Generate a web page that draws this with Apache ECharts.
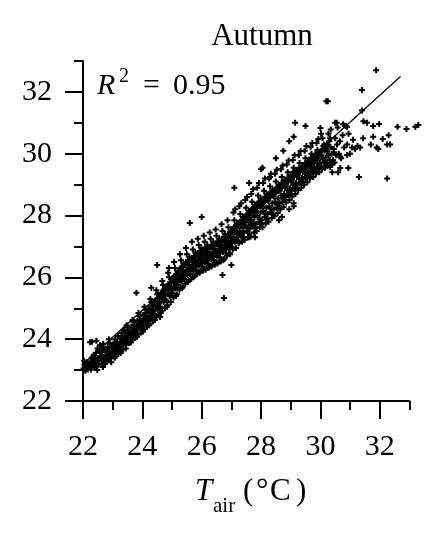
<!DOCTYPE html>
<html>
<head>
<meta charset="utf-8">
<script src="https://cdn.jsdelivr.net/npm/echarts@6/dist/echarts.min.js"></script>
<style>
html,body{margin:0;padding:0;background:#fff;}
#chart{width:441px;height:541px;}
</style>
</head>
<body>
<div id="chart"></div>
<script>
// Tick values
var majorTicks = [22, 24, 26, 28, 30, 32];
var axisMin = 22, axisMax = 33;

// Observed points, lower part of the band (T_air < 26)
var lowerBand = [
[22.02,23.05],[22.05,23.18],[22.08,22.98],[22.1,23.12],[22.13,23.25],[22.16,23.02],[22.19,23.15],[22.04,23.3],
[22.22,23.1],[22.25,23.28],[22.27,23.02],[22.3,23.4],[22.33,23.18],[22.36,23.5],[22.38,23.08],[22.24,23.9],[22.35,23.33],
[22.42,23.25],[22.44,23.55],[22.46,23.12],[22.49,23.7],[22.51,23.38],[22.53,23.2],[22.55,23.62],[22.58,23.45],[22.45,23.95],[22.57,23.8],[22.48,23.0],
[22.62,23.3],[22.64,23.58],[22.66,23.18],[22.69,23.72],[22.71,23.42],[22.73,23.25],[22.75,23.65],[22.78,23.5],[22.68,23.85],[22.74,23.2],[22.77,23.36],[22.67,23.1],
[22.81,23.45],[22.83,23.75],[22.85,23.32],[22.88,23.62],[22.9,23.88],[22.92,23.5],[22.94,23.38],[22.96,23.7],[22.98,23.55],[22.87,24.0],[22.95,23.25],
[23.01,23.6],[23.03,23.85],[23.05,23.45],[23.08,24.0],[23.1,23.72],[23.12,23.55],[23.14,23.9],[23.16,23.68],[23.18,24.1],[23.07,23.4],[23.13,23.8],[23.19,23.52],
[23.21,23.75],[23.23,24.05],[23.25,23.62],[23.28,23.92],[23.3,24.2],[23.32,23.82],[23.34,24.0],[23.36,23.68],[23.38,24.3],[23.27,23.55],[23.33,24.12],[23.39,23.9],
[23.41,23.95],[23.43,24.22],[23.45,23.82],[23.48,24.1],[23.5,24.38],[23.52,24.0],[23.54,24.28],[23.56,23.88],[23.58,24.15],[23.47,24.45],[23.55,24.05],[23.44,23.7],
[23.61,24.1],[23.63,24.4],[23.65,23.98],[23.68,24.3],[23.7,24.55],[23.72,24.18],[23.74,24.45],[23.76,24.05],[23.78,24.35],[23.67,24.62],[23.75,24.25],[23.62,23.9],
[23.81,24.3],[23.83,24.6],[23.85,24.15],[23.88,24.48],[23.9,24.75],[23.92,24.38],[23.94,24.62],[23.96,24.22],[23.98,24.52],[23.87,24.85],[23.95,24.42],[23.82,24.08],
[24.01,24.45],[24.03,24.78],[24.05,24.32],[24.08,24.65],[24.1,24.95],[24.12,24.55],[24.14,24.85],[24.16,24.4],[24.18,24.7],[24.07,25.05],[24.15,24.6],[24.02,24.25],[24.19,24.9],
[24.21,24.62],[24.23,25.0],[24.25,24.5],[24.28,24.85],[24.3,25.2],[24.32,24.72],[24.34,25.08],[24.36,24.58],[24.38,24.92],[24.27,25.3],[24.35,24.8],[24.22,24.45],[24.39,25.15],
[24.41,24.82],[24.43,25.25],[24.45,24.7],[24.48,25.1],[24.5,25.45],[24.52,24.95],[24.54,25.32],[24.56,24.78],[24.58,25.18],[24.47,25.58],[24.55,25.02],[24.42,24.62],[24.59,25.4],
[24.61,25.05],[24.63,25.5],[24.65,24.92],[24.68,25.35],[24.7,25.75],[24.72,25.2],[24.74,25.62],[24.76,25.0],[24.78,25.45],[24.67,25.88],[24.75,25.28],[24.62,24.85],[24.79,25.7],[24.71,25.55],
[24.81,25.25],[24.83,25.72],[24.85,25.1],[24.88,25.58],[24.9,26.0],[24.92,25.4],[24.94,25.85],[24.96,25.2],[24.98,25.65],[24.87,26.15],[24.95,25.5],[24.82,25.05],[24.99,25.95],[24.91,25.78],
[25.01,25.5],[25.03,25.95],[25.05,25.35],[25.08,25.82],[25.1,26.3],[25.12,25.65],[25.14,26.1],[25.16,25.45],[25.18,25.9],[25.07,26.5],[25.15,25.75],[25.02,25.6],[25.19,26.2],[25.11,26.02],[25.13,25.4],
[25.21,25.75],[25.23,26.2],[25.25,25.6],[25.28,26.05],[25.3,26.55],[25.32,25.88],[25.34,26.35],[25.36,25.7],[25.38,26.12],[25.27,26.75],[25.35,25.98],[25.22,25.85],[25.39,26.45],[25.31,26.25],[25.33,25.65],
[25.41,25.95],[25.43,26.4],[25.45,25.8],[25.48,26.25],[25.5,26.75],[25.52,26.08],[25.54,26.55],[25.56,25.9],[25.58,26.32],[25.47,26.95],[25.55,26.18],[25.42,26.05],[25.59,26.65],[25.51,26.45],[25.53,25.85],
[25.61,26.1],[25.63,26.55],[25.65,25.95],[25.68,26.4],[25.7,26.9],[25.72,26.22],[25.74,26.7],[25.76,26.05],[25.78,26.48],[25.67,27.15],[25.75,26.32],[25.62,26.2],[25.79,26.8],[25.71,26.6],[25.73,26.0],
[25.81,26.25],[25.83,26.7],[25.85,26.12],[25.88,26.55],[25.9,27.05],[25.92,26.38],[25.94,26.85],[25.96,26.2],[25.98,26.62],[25.87,27.25],[25.95,26.48],[25.82,26.35],[25.99,26.95],[25.91,26.75],[25.93,26.15]
];

// Observed points, upper part of the band (T_air >= 26)
var upperBand = [
[26.01,26.35],[26.03,26.8],[26.05,26.22],[26.08,26.65],[26.1,27.15],[26.12,26.5],[26.14,26.95],[26.16,26.3],[26.18,26.72],[26.07,27.35],[26.15,26.58],[26.02,26.45],[26.19,27.05],[26.11,26.88],[26.13,26.25],
[26.21,26.45],[26.23,26.9],[26.25,26.32],[26.28,26.75],[26.3,27.25],[26.32,26.6],[26.34,27.05],[26.36,26.4],[26.38,26.82],[26.27,27.45],[26.35,26.68],[26.22,26.55],[26.39,27.15],[26.31,26.98],[26.33,26.35],
[26.41,26.55],[26.43,27.0],[26.45,26.42],[26.48,26.85],[26.5,27.35],[26.52,26.7],[26.54,27.15],[26.56,26.5],[26.58,26.92],[26.47,27.55],[26.55,26.78],[26.42,26.65],[26.59,27.25],[26.51,27.08],[26.53,26.45],
[26.61,26.65],[26.63,27.12],[26.65,26.52],[26.68,26.98],[26.7,27.5],[26.72,26.82],[26.74,27.3],[26.76,26.6],[26.78,27.05],[26.67,27.72],[26.75,26.9],[26.62,26.78],[26.79,27.4],[26.71,27.2],[26.73,26.55],
[26.81,26.8],[26.83,27.25],[26.85,26.7],[26.88,27.1],[26.9,27.62],[26.92,26.95],[26.94,27.42],[26.96,26.75],[26.98,27.18],[26.87,27.85],[26.95,27.02],[26.82,26.9],[26.99,27.52],[26.91,27.32],[26.93,26.78],
[27.01,27.0],[27.03,27.45],[27.05,26.9],[27.08,27.3],[27.1,27.85],[27.12,27.15],[27.14,27.65],[27.16,26.95],[27.18,27.4],[27.07,28.1],[27.15,27.22],[27.02,27.1],[27.19,27.75],[27.11,27.55],[27.13,28.2],
[27.21,27.2],[27.23,27.65],[27.25,27.1],[27.28,27.5],[27.3,28.05],[27.32,27.35],[27.34,27.85],[27.36,27.15],[27.38,27.6],[27.27,28.3],[27.35,27.42],[27.22,27.3],[27.39,27.95],[27.31,27.75],[27.33,28.4],
[27.41,27.3],[27.43,27.82],[27.45,27.22],[27.48,27.68],[27.5,28.25],[27.52,27.5],[27.54,28.05],[27.56,27.3],[27.58,27.78],[27.47,28.5],[27.55,27.6],[27.42,27.45],[27.59,28.15],[27.51,27.95],[27.53,28.6],
[27.61,27.42],[27.63,28.0],[27.65,27.32],[27.68,27.85],[27.7,28.45],[27.72,27.65],[27.74,28.25],[27.76,27.45],[27.78,27.95],[27.67,28.7],[27.75,27.75],[27.62,27.58],[27.79,28.35],[27.71,28.12],[27.73,28.85],
[27.81,27.6],[27.83,28.15],[27.85,27.5],[27.88,28.0],[27.9,28.65],[27.92,27.8],[27.94,28.45],[27.96,27.62],[27.98,28.1],[27.87,28.9],[27.95,27.9],[27.82,27.72],[27.99,28.55],[27.91,28.3],[27.93,29.05],
[28.01,27.72],[28.03,28.3],[28.05,27.62],[28.08,28.15],[28.1,28.8],[28.12,27.95],[28.14,28.6],[28.16,27.75],[28.18,28.25],[28.07,29.05],[28.15,28.05],[28.02,27.85],[28.19,28.7],[28.11,28.45],[28.13,29.2],
[28.21,27.9],[28.23,28.48],[28.25,27.8],[28.28,28.3],[28.3,28.95],[28.32,28.1],[28.34,28.75],[28.36,27.92],[28.38,28.4],[28.27,29.2],[28.35,28.2],[28.22,28.05],[28.39,28.85],[28.31,28.6],[28.33,29.35],
[28.41,28.05],[28.43,28.62],[28.45,27.98],[28.48,28.45],[28.5,29.1],[28.52,28.25],[28.54,28.9],[28.56,28.08],[28.58,28.55],[28.47,29.35],[28.55,28.35],[28.42,28.2],[28.59,29.0],[28.51,28.75],[28.53,29.48],
[28.61,28.3],[28.63,28.8],[28.65,28.2],[28.68,28.65],[28.7,29.25],[28.72,28.45],[28.74,29.05],[28.76,28.28],[28.78,28.7],[28.67,29.5],[28.75,28.55],[28.62,28.4],[28.79,29.15],[28.71,28.92],[28.73,29.62],
[28.81,28.5],[28.83,28.95],[28.85,28.42],[28.88,28.82],[28.9,29.4],[28.92,28.65],[28.94,29.2],[28.96,28.5],[28.98,28.88],[28.87,29.65],[28.95,28.72],[28.82,28.6],[28.99,29.3],[28.91,29.08],[28.93,29.78],
[29.01,28.7],[29.03,29.12],[29.05,28.62],[29.08,29.0],[29.1,29.55],[29.12,28.85],[29.14,29.35],[29.16,28.7],[29.18,29.05],[29.07,29.8],[29.15,28.92],[29.02,28.8],[29.19,29.45],[29.11,29.25],[29.13,29.95],
[29.21,28.9],[29.23,29.3],[29.25,28.82],[29.28,29.18],[29.3,29.7],[29.32,29.05],[29.34,29.5],[29.36,28.9],[29.38,29.22],[29.27,29.95],[29.35,29.12],[29.22,29.0],[29.39,29.6],[29.31,29.4],[29.33,30.08],
[29.41,29.1],[29.43,29.48],[29.45,29.0],[29.48,29.35],[29.5,29.85],[29.52,29.22],[29.54,29.65],[29.56,29.08],[29.58,29.4],[29.47,30.1],[29.55,29.3],[29.42,29.18],[29.59,29.75],[29.51,29.55],[29.53,30.25],
[29.61,29.3],[29.63,29.65],[29.65,29.2],[29.68,29.52],[29.7,30.0],[29.72,29.4],[29.74,29.8],[29.76,29.25],[29.78,29.58],[29.67,30.22],[29.75,29.48],[29.62,29.38],[29.79,29.9],[29.71,29.7],[29.73,30.35],
[29.81,29.45],[29.83,29.8],[29.85,29.35],[29.88,29.68],[29.9,30.12],[29.92,29.55],[29.94,29.95],[29.96,29.4],[29.98,29.72],[29.87,30.35],[29.95,29.62],[29.82,29.5],[29.99,30.05],[29.91,29.85],[29.93,30.48],
[30.01,29.6],[30.03,29.95],[30.05,29.5],[30.08,29.82],[30.1,30.25],[30.12,29.7],[30.14,30.1],[30.16,29.55],[30.18,29.88],[30.07,30.5],[30.15,29.78],[30.02,30.65],[30.19,30.2],
[30.21,29.72],[30.23,30.08],[30.25,29.62],[30.28,29.95],[30.3,30.4],[30.32,29.8],[30.34,30.22],[30.36,29.68],[30.38,30.0],[30.27,30.65],[30.35,30.78],[30.22,30.3],
[30.42,29.8],[30.45,30.15],[30.48,29.72],[30.5,30.5],[30.53,29.95],[30.56,30.3],[30.58,30.85],[30.46,30.05],
[30.62,30.0],[30.66,30.4],[30.7,29.85],[30.75,30.6],[30.8,30.2],[30.85,30.9],[30.9,30.3],[30.95,30.65]
];

// Extra points filling the dense core of the band
var coreExtra = [
[22.09,23.09],[22.15,23.22],[22.29,23.24],[22.41,23.4],[22.47,23.3],[22.59,23.6],[22.65,23.42],[22.79,23.62],[22.86,23.5],[22.97,23.82],
[23.06,23.7],[23.15,23.62],[23.26,23.85],[23.35,23.95],[23.46,24.05],[23.53,24.2],[23.66,24.22],[23.73,24.38],[23.86,24.36],[23.93,24.55],
[24.06,24.58],[24.13,24.72],[24.26,24.75],[24.33,24.95],[24.46,25.05],[24.53,25.2],[24.66,25.3],[24.73,25.45],[24.86,25.45],[24.93,25.68],
[25.06,25.7],[25.09,26.05],[25.17,25.88],[25.26,25.95],[25.29,26.3],[25.37,26.2],[25.46,26.15],[25.49,26.5],[25.57,26.4],[25.66,26.3],
[25.69,26.62],[25.77,26.55],[25.86,26.45],[25.89,26.8],[25.97,26.72],[26.06,26.55],[26.09,26.92],[26.17,26.82],[26.26,26.68],[26.29,27.0],
[26.37,26.92],[26.46,26.75],[26.49,27.1],[26.57,27.02],[26.66,26.9],[26.69,27.25],[26.77,27.18],[26.86,27.05],[26.89,27.4],[26.97,27.3],
[27.06,27.25],[27.09,27.62],[27.17,27.5],[27.26,27.42],[27.29,27.8],[27.37,27.7],[27.46,27.65],[27.49,28.0],[27.57,27.9],[27.66,27.7],
[27.69,28.2],[27.77,28.08],[27.86,28.25],[27.89,28.4],[27.97,28.3],[28.06,28.4],[28.09,28.55],[28.17,28.5],[28.26,28.6],[28.29,28.72],
[28.37,28.65],[28.46,28.72],[28.49,28.85],[28.57,28.8],[28.66,28.95],[28.69,29.05],[28.77,28.95],[28.86,29.1],[28.89,29.22],[28.97,29.15],
[29.06,29.3],[29.09,29.42],[29.17,29.35],[29.26,29.45],[29.29,29.55],[29.37,29.52],[29.46,29.6],[29.49,29.7],[29.57,29.62],[29.66,29.78],
[29.69,29.88],[29.77,29.82],[29.86,29.92],[29.89,30.05],[29.97,30.02],[30.06,30.12],[30.13,30.3],[30.26,30.22],[30.33,30.5]
];

// Scattered points away from the band
var outliers = [
[22.3,23.92],[22.67,23.1],[23.8,25.5],[24.5,26.4],[24.3,25.66],[24.6,24.72],[24.9,26.3],[25.6,27.76],[26.0,27.95],
[26.7,26.08],[26.75,25.33],[27.0,26.4],[27.1,28.9],[27.6,29.05],[28.0,29.5],[27.6,27.3],[27.8,27.3],
[28.6,27.85],[28.95,28.2],[29.1,28.4],[28.6,28.3],[28.7,27.95],[29.1,28.3],
[29.15,31.0],[29.5,30.9],[29.1,30.55],[28.95,30.4],[28.75,30.1],[28.5,29.85],[28.05,29.55],[28.3,29.25],
[30.0,30.83],[30.5,31.0],[30.55,31.0],[30.77,30.95],[30.9,30.87],[31.45,31.05],[31.57,31.0],[31.78,30.9],[31.98,30.96],
[31.88,32.7],[31.4,32.06],[30.2,31.7],[30.25,31.7],[31.4,31.4],
[31.1,30.45],[31.44,30.5],[31.78,30.55],[32.1,30.48],[32.3,30.6],[31.07,30.2],[31.34,30.2],[31.7,30.3],[31.9,30.2],[32.35,30.3],
[31.0,30.0],[30.67,29.9],[30.43,29.7],[30.67,29.54],[30.94,29.54],[30.4,29.4],[30.6,29.4],[31.3,29.25],[32.25,29.2],
[32.6,30.87],[32.9,30.8],[33.2,30.87],[33.3,30.93],
[31.25,30.25],[31.17,30.15],[31.95,30.15],[32.25,30.3],[30.9,29.96],[30.33,29.57]
];

// Regression line end points
var fitLine = [[22.0, 23.2], [32.7, 32.5]];

var FONT = "'Liberation Serif','Times New Roman',serif";
var plusPath = 'path://M0,2L6,2L6,4L0,4ZM2,0L4,0L4,6L2,6Z';

var chart = echarts.init(document.getElementById('chart'), null, {renderer: 'canvas'});

function baseAxis(extra) {
  var a = {
    type: 'value', min: axisMin, max: axisMax, interval: 1,
    axisLine: {show: true, onZero: false, lineStyle: {color: '#000', width: 2}},
    axisTick: {show: true, inside: false, length: 9, lineStyle: {color: '#000', width: 2}},
    axisLabel: {show: false},
    splitLine: {show: false}
  };
  for (var k in extra) a[k] = extra[k];
  return a;
}
function majorAxis(extra) {
  var a = {
    type: 'value', min: axisMin, max: axisMax, interval: 1,
    axisLine: {show: false, onZero: false},
    axisTick: {show: true, inside: false, length: 18, customValues: majorTicks, lineStyle: {color: '#000', width: 2}},
    axisLabel: {show: true, customValues: majorTicks, fontFamily: FONT, fontSize: 30, color: '#000', margin: 31},
    splitLine: {show: false}
  };
  for (var k in extra) a[k] = extra[k];
  return a;
}

var option = {
  backgroundColor: '#fff',
  animation: false,
  grid: {left: 83, right: 31.6, top: 61, bottom: 140, containLabel: false},
  xAxis: [
    baseAxis({position: 'bottom', offset: 0}),
    majorAxis({position: 'bottom', offset: 0})
  ],
  yAxis: [
    baseAxis({position: 'left', offset: 0}),
    majorAxis({position: 'left', offset: 0})
  ],
  series: [
    {
      type: 'scatter', xAxisIndex: 0, yAxisIndex: 0, clip: false,
      symbol: plusPath, symbolSize: 6,
      itemStyle: {color: '#000', opacity: 1},
      data: lowerBand.concat(upperBand).concat(coreExtra).concat(outliers),
      silent: true
    },
    {
      type: 'line', xAxisIndex: 0, yAxisIndex: 0,
      data: fitLine, showSymbol: false, symbol: 'none',
      lineStyle: {color: '#000', width: 1.3},
      silent: true
    }
  ],
  graphic: [
    {type: 'text', style: {text: 'Autumn', x: 262, y: 37, font: "31px " + FONT, fill: '#000', textAlign: 'center', textVerticalAlign: 'middle'}},
    {type: 'text', style: {text: 'R', x: 97, y: 86, font: "italic 30px " + FONT, fill: '#000', textAlign: 'left', textVerticalAlign: 'middle'}},
    {type: 'text', style: {text: '2', x: 119, y: 77, font: "20px " + FONT, fill: '#000', textAlign: 'left', textVerticalAlign: 'middle'}},
    {type: 'text', style: {text: '=', x: 143, y: 86, font: "30px " + FONT, fill: '#000', textAlign: 'left', textVerticalAlign: 'middle'}},
    {type: 'text', style: {text: '0.95', x: 173, y: 86, font: "30px " + FONT, fill: '#000', textAlign: 'left', textVerticalAlign: 'middle'}},
    {type: 'text', style: {text: 'T', x: 195, y: 492, font: "italic 31px " + FONT, fill: '#000', textAlign: 'left', textVerticalAlign: 'middle'}},
    {type: 'text', style: {text: 'air', x: 213, y: 506, font: "21px " + FONT, fill: '#000', textAlign: 'left', textVerticalAlign: 'middle'}},
    {type: 'text', style: {text: '(', x: 243, y: 492, font: "31px " + FONT, fill: '#000', textAlign: 'left', textVerticalAlign: 'middle'}},
    {type: 'text', style: {text: '°', x: 256, y: 492, font: "31px " + FONT, fill: '#000', textAlign: 'left', textVerticalAlign: 'middle'}},
    {type: 'text', style: {text: 'C', x: 270, y: 492, font: "31px " + FONT, fill: '#000', textAlign: 'left', textVerticalAlign: 'middle'}},
    {type: 'text', style: {text: ')', x: 296, y: 492, font: "31px " + FONT, fill: '#000', textAlign: 'left', textVerticalAlign: 'middle'}}
  ]
};
chart.setOption(option);
</script>
</body>
</html>
